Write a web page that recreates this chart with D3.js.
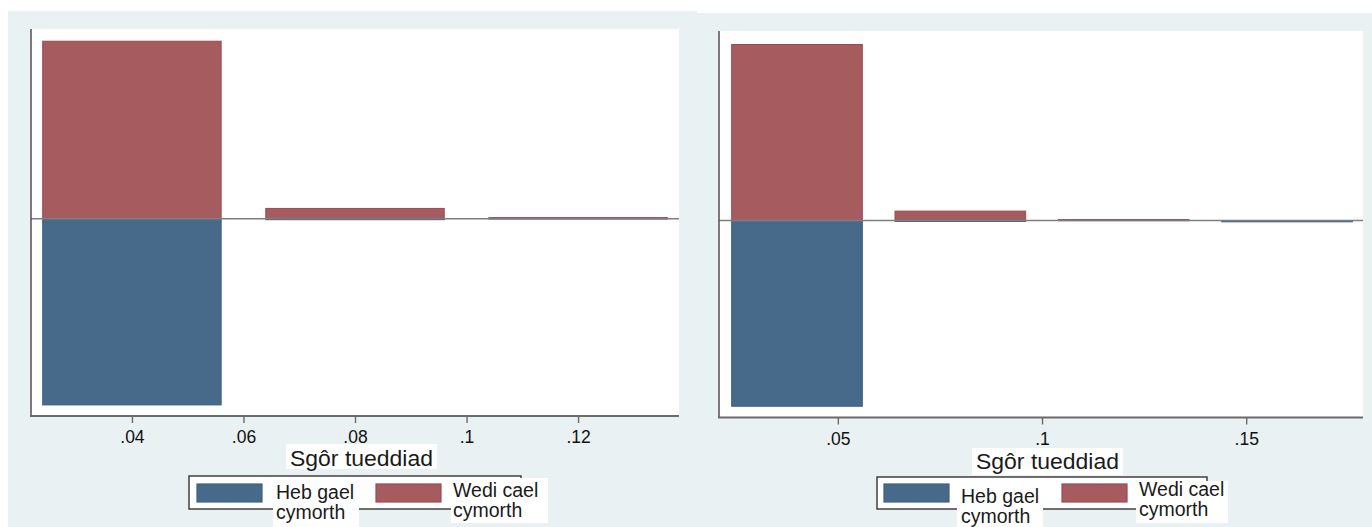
<!DOCTYPE html>
<html>
<head>
<meta charset="utf-8">
<script src="https://cdn.jsdelivr.net/npm/d3@7"></script>
<style>
  html, body { margin: 0; padding: 0; background: #ffffff; }
  svg { display: block; font-family: "Liberation Sans", Arial, sans-serif; }
</style>
</head>
<body>
<svg id="chart" width="1372" height="527"></svg>
<script>
// ---- data ----
const binCenters1 = [0.04, 0.08, 0.12];
const treated1 = [0.945, 0.055, 0.006];     // Wedi cael cymorth (up)
const control1 = [0.991, 0.005, 0.001];     // Heb gael cymorth (down)
const ticks1 = [0.04, 0.06, 0.08, 0.10, 0.12];
const tickLabels1 = [".04", ".06", ".08", ".1", ".12"];

const binCenters2 = [0.04, 0.08, 0.12, 0.16];
const treated2 = [0.938, 0.05, 0.005, 0.0];
const control2 = [0.99, 0.005, 0.001, 0.007];
const ticks2 = [0.05, 0.10, 0.15];
const tickLabels2 = [".05", ".1", ".15"];

const barWidth = 0.032;
const xTitle = "Sgôr tueddiad";
const legendLabels = [["Heb gael", "cymorth"], ["Wedi cael", "cymorth"]];

const blue = "#486a8a", blueStroke = "#3e5f80";
const red = "#a65b5f", redStroke = "#9c4a51";
const bg = "#e9f1f3";

const svg = d3.select("#chart");

function panel(cfg) {
  const g = svg.append("g");
  g.append("rect").attr("x", cfg.bg[0]).attr("y", cfg.bg[1])
    .attr("width", cfg.bg[2]).attr("height", cfg.bg[3]).attr("fill", bg);
  const x = d3.scaleLinear().domain(cfg.xDomain).range([cfg.left, cfg.right]);
  const y = d3.scaleLinear().domain([-1.05, 1.01]).range([cfg.bottom, cfg.top]);
  g.append("rect").attr("x", cfg.left).attr("y", cfg.top)
    .attr("width", cfg.right - cfg.left).attr("height", cfg.bottom - cfg.top)
    .attr("fill", "#ffffff");

  g.selectAll(".up").data(cfg.centers.map((c, i) => ({c, v: cfg.treated[i]})))
    .join("rect")
    .attr("x", d => x(d.c - barWidth / 2))
    .attr("width", d => x(d.c + barWidth / 2) - x(d.c - barWidth / 2))
    .attr("y", d => y(d.v))
    .attr("height", d => y(0) - y(d.v))
    .attr("fill", red).attr("stroke", redStroke).attr("stroke-width", 1);
  g.selectAll(".down").data(cfg.centers.map((c, i) => ({c, v: cfg.control[i]})))
    .join("rect")
    .attr("x", d => x(d.c - barWidth / 2))
    .attr("width", d => x(d.c + barWidth / 2) - x(d.c - barWidth / 2))
    .attr("y", y(0))
    .attr("height", d => y(-d.v) - y(0))
    .attr("fill", blue).attr("stroke", blueStroke).attr("stroke-width", 1);

  g.append("line").attr("x1", cfg.left).attr("x2", cfg.right)
    .attr("y1", y(0)).attr("y2", y(0))
    .attr("stroke", "#7f7f7f").attr("stroke-width", 1.6);

  g.append("line").attr("x1", cfg.left).attr("x2", cfg.left)
    .attr("y1", cfg.top).attr("y2", cfg.bottom)
    .attr("stroke", "#5a5a5a").attr("stroke-width", 1.6);

  const ax = d3.axisBottom(x).tickValues(cfg.ticks)
    .tickFormat((d, i) => cfg.tickLabels[i]).tickSize(7).tickPadding(8).tickSizeOuter(0);
  const axG = g.append("g").attr("transform", `translate(0,${cfg.bottom})`).call(ax);
  axG.attr("font-size", null).attr("font-family", null);
  axG.select(".domain").attr("stroke", "#6a6a6a").attr("stroke-width", 1.8)
    .attr("d", `M${cfg.left - 1},0H${cfg.right}`);
  axG.selectAll(".tick line").attr("stroke", "#6a6a6a").attr("stroke-width", 1.4);
  axG.selectAll(".tick text")
    .style("font-size", "17.5px").style("font-family", "'Liberation Sans', Arial, sans-serif")
    .attr("fill", "#111");

  g.append("rect").attr("x", cfg.title[0]).attr("y", cfg.title[1])
    .attr("width", cfg.title[2]).attr("height", cfg.title[3]).attr("fill", "#fff");
  g.append("text").attr("x", cfg.title[0] + cfg.title[2] / 2).attr("y", cfg.title[4])
    .attr("text-anchor", "middle").style("font-size", "22px").attr("fill", "#1a1a1a")
    .attr("textLength", cfg.title[2] - 8).attr("lengthAdjust", "spacingAndGlyphs")
    .text(xTitle);

  const L = cfg.legend;
  g.append("rect").attr("x", L.box[0]).attr("y", L.box[1])
    .attr("width", L.box[2]).attr("height", L.box[3])
    .attr("fill", "#fff").attr("stroke", "#333").attr("stroke-width", 1.4);
  const keys = [[blue, blueStroke], [red, redStroke]];
  L.keys.forEach((k, i) => {
    g.append("rect").attr("x", k[0]).attr("y", k[1]).attr("width", 65).attr("height", 18)
      .attr("fill", keys[i][0]).attr("stroke", keys[i][1]).attr("stroke-width", 1.2);
  });
  L.labels.forEach((lb, i) => {
    g.append("rect").attr("x", lb.box[0]).attr("y", lb.box[1])
      .attr("width", lb.box[2]).attr("height", lb.box[3]).attr("fill", "#fff");
    legendLabels[i].forEach((t, j) => {
      g.append("text").attr("x", lb.tx).attr("y", lb.ty + j * 20)
        .style("font-size", "19.5px").attr("fill", "#1a1a1a").text(t);
    });
  });
}

panel({
  bg: [8, 11, 689, 516],
  left: 31, right: 679, top: 29, bottom: 416,
  xDomain: [0.0219, 0.1381],
  centers: binCenters1, treated: treated1, control: control1,
  ticks: ticks1, tickLabels: tickLabels1,
  title: [286, 444, 151, 25, 466],
  legend: {
    box: [189, 476, 332, 33],
    keys: [[197, 484], [376, 484]],
    labels: [
      {box: [273, 482, 86, 45], tx: 276, ty: 499},
      {box: [451, 478, 97, 45], tx: 453, ty: 497}
    ]
  }
});

panel({
  bg: [697, 13, 675, 514],
  left: 719, right: 1363, top: 31, bottom: 417.5,
  xDomain: [0.0209, 0.1786],
  centers: binCenters2, treated: treated2, control: control2,
  ticks: ticks2, tickLabels: tickLabels2,
  title: [972, 448, 151, 27, 469],
  legend: {
    box: [877, 477, 330, 32],
    keys: [[884, 484], [1062, 484]],
    labels: [
      {box: [957, 487, 86, 40], tx: 961, ty: 503},
      {box: [1136, 481, 92, 42], tx: 1139, ty: 496}
    ]
  }
});
</script>
</body>
</html>
